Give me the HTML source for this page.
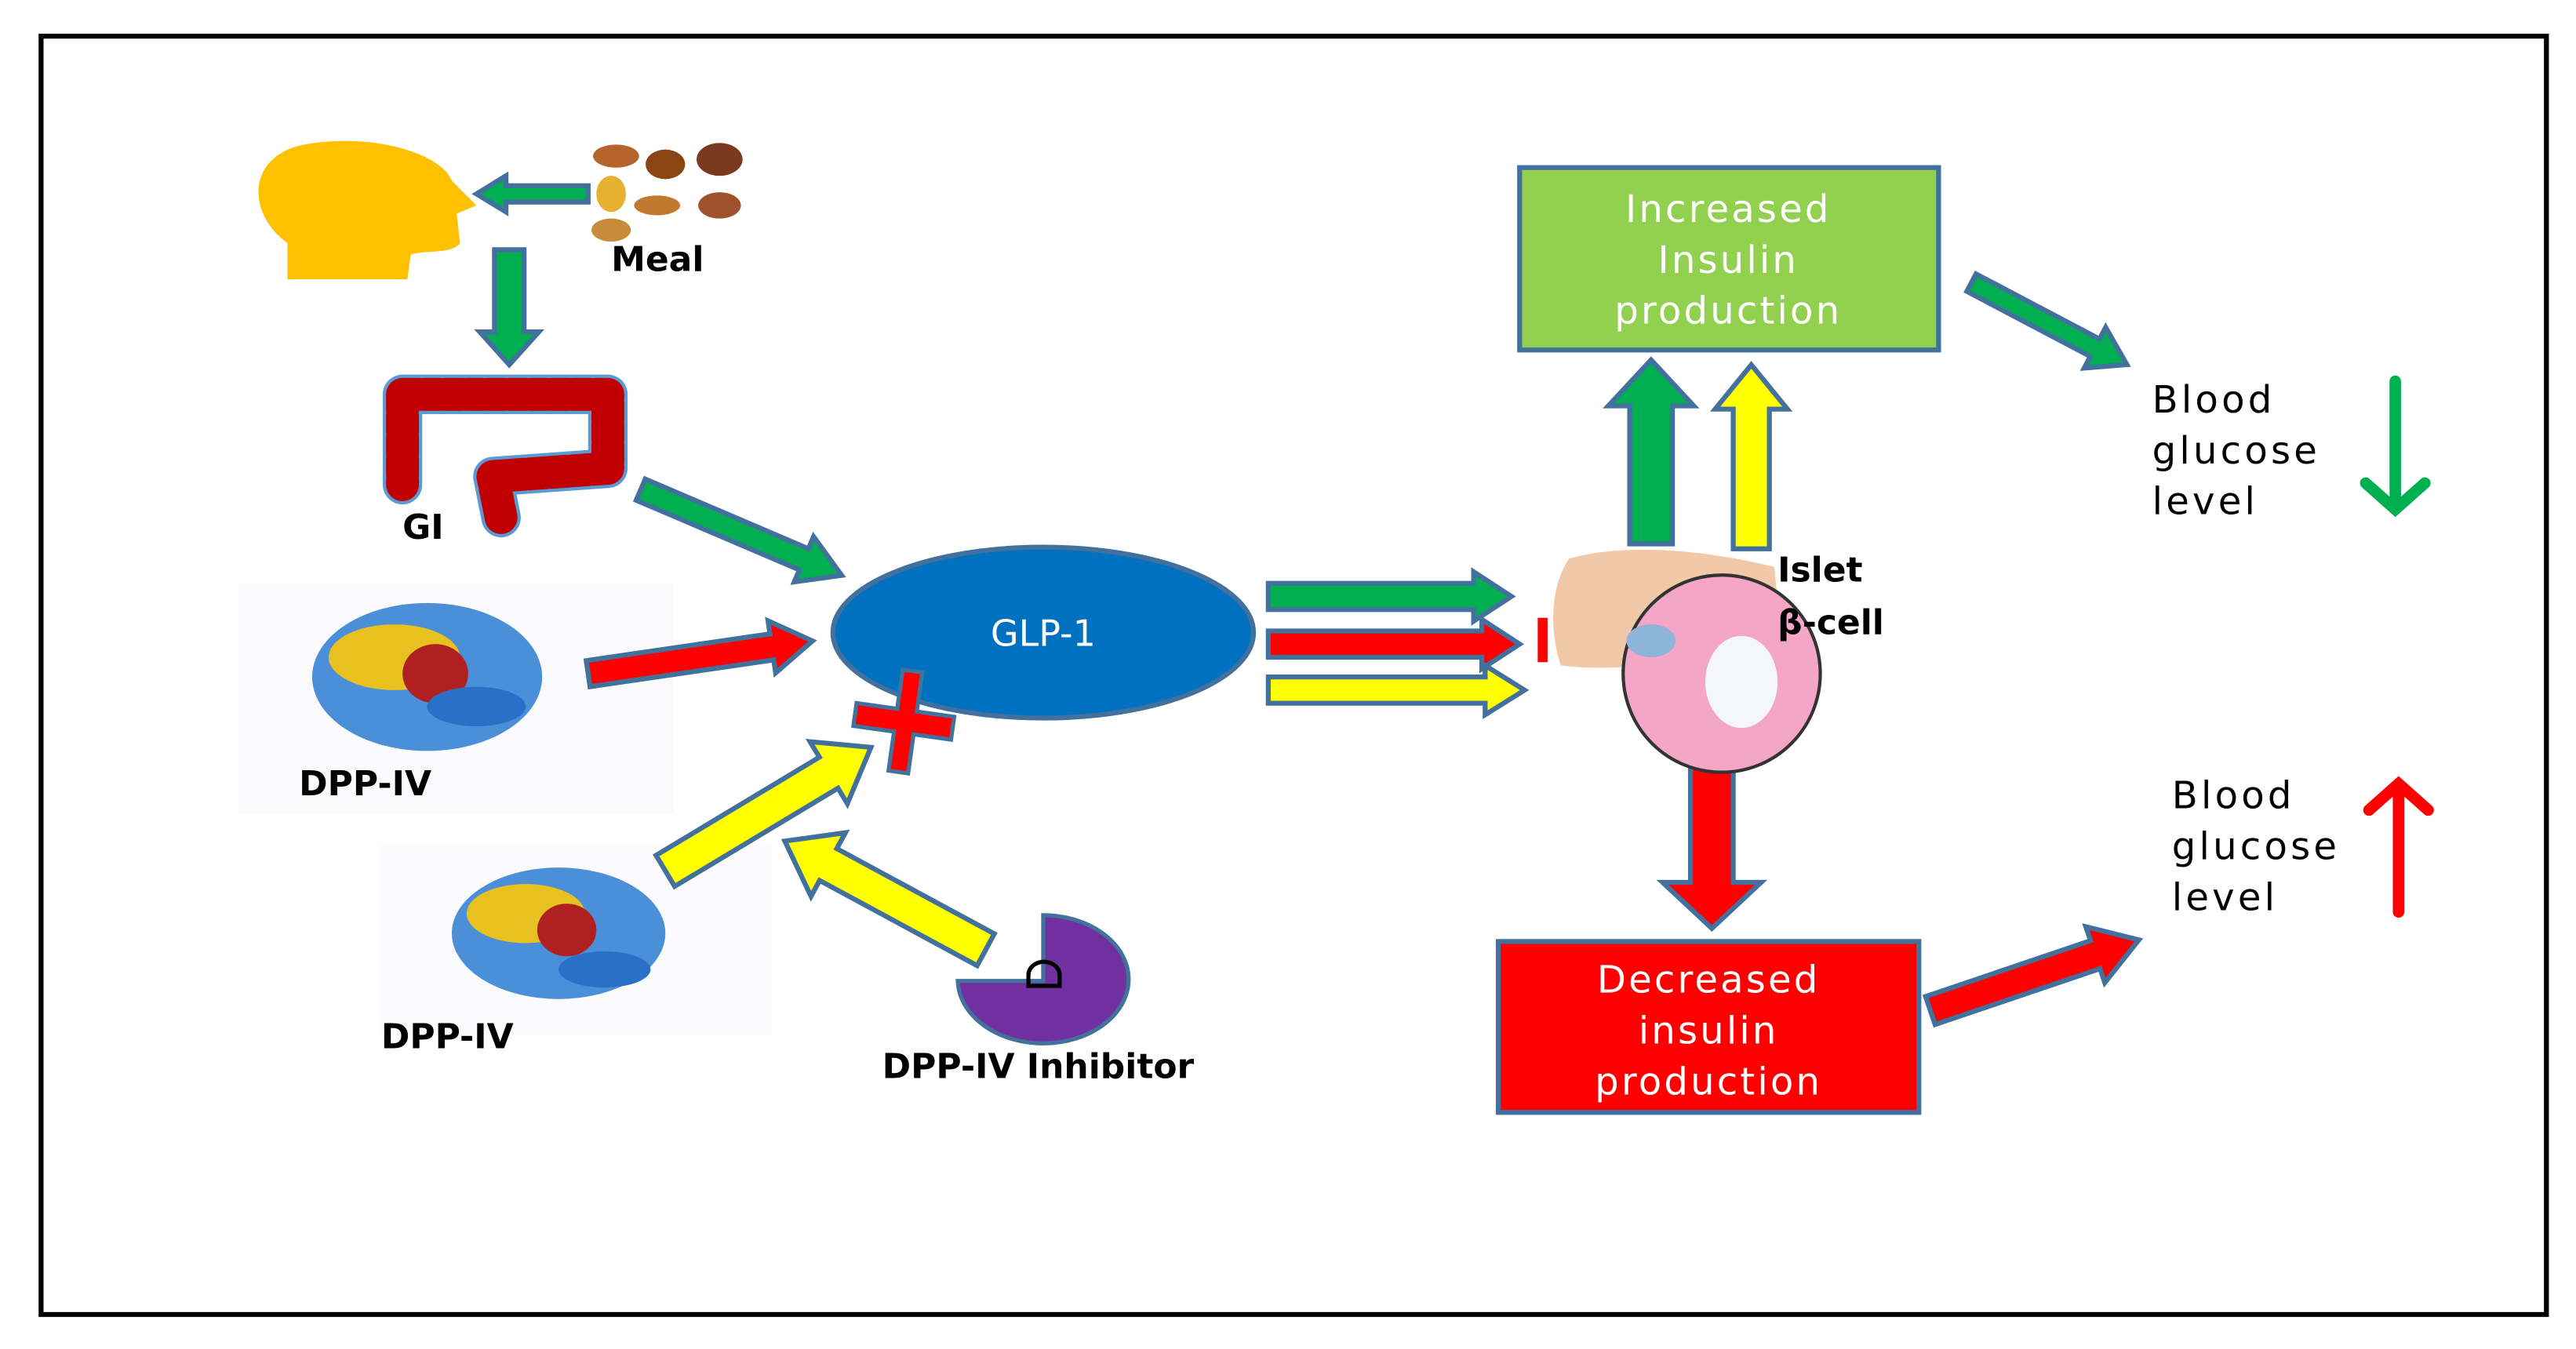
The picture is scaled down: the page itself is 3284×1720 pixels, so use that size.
<!DOCTYPE html>
<html><head><meta charset="utf-8"><style>
html,body{margin:0;padding:0;background:#fff;}
svg{display:block;}
text{font-family:"DejaVu Sans","Liberation Sans",sans-serif;}
</style></head><body>
<svg width="3284" height="1720" viewBox="0 0 1568 821" preserveAspectRatio="none" xmlns="http://www.w3.org/2000/svg">
<rect x="25" y="22" width="1525" height="778" fill="#fff" stroke="#000" stroke-width="3"/>
<!-- DPP backgrounds -->
<rect x="145" y="355" width="265" height="140" fill="#FBFBFD"/>
<rect x="230" y="515" width="240" height="115" fill="#FBFBFD"/>
<g stroke="#41719C" stroke-width="3" stroke-linejoin="miter">
<polygon points="0,-5 50,-5 50,-11 68,0 50,11 50,5 0,5" fill="#00B050" transform="translate(358,118) rotate(180)"/>
<polygon points="0,-9 50,-9 50,-18 70,0 50,18 50,9 0,9" fill="#00B050" transform="translate(310,152) rotate(90)"/>
<polygon points="0,-7 108,-7 108,-15 133,0 108,15 108,7 0,7" fill="#00B050" transform="translate(390,298) rotate(23.1)"/>
<polygon points="0,-8 113,-8 113,-16 138,0 113,16 113,8 0,8" fill="#FF0000" transform="translate(358,410) rotate(-8.3)"/>
<polygon points="0,-11 116,-11 116,-22 146,0 116,22 116,11 0,11" fill="#FFFF00" transform="translate(405,530) rotate(-31)"/>
<polygon points="0,-11 109,-11 109,-22 139,0 109,22 109,11 0,11" fill="#FFFF00" transform="translate(600,578) rotate(208.4)"/>
<polygon points="0,-8 125,-8 125,-15 148,0 125,15 125,8 0,8" fill="#00B050" transform="translate(772,363)"/>
<polygon points="0,-8 130,-8 130,-15 153,0 130,15 130,8 0,8" fill="#FF0000" transform="translate(772,392)"/>
<polygon points="0,-8 132,-8 132,-15 156,0 132,15 132,8 0,8" fill="#FFFF00" transform="translate(772,420)"/>
<polygon points="0,-13 84,-13 84,-26 112,0 84,26 84,13 0,13" fill="#00B050" transform="translate(1005,331) rotate(-90)"/>
<polygon points="0,-11 85,-11 85,-22 112,0 85,22 85,11 0,11" fill="#FFFF00" transform="translate(1066,334) rotate(-90)"/>
<polygon points="0,-6 85,-6 85,-14 107,0 85,14 85,6 0,6" fill="#00B050" transform="translate(1200,172) rotate(27.8)"/>
<polygon points="0,-13 82,-13 82,-30 110,0 82,30 82,13 0,13" fill="#FF0000" transform="translate(1042,455) rotate(90)"/>
<polygon points="0,-9 106,-9 106,-18 134,0 106,18 106,9 0,9" fill="#FF0000" transform="translate(1175,615) rotate(-18.7)"/>
</g>
<!-- head -->
<path d="M175,170 L175,148 C150,130 150,95 185,88 C230,80 270,95 275,110 L290,125 L278,130 L280,148 C275,155 258,152 250,155 L248,170 Z" fill="#FFC000"/>
<!-- meal -->
<ellipse cx="375" cy="95" rx="14" ry="7" fill="#B5652C"/>
<ellipse cx="405" cy="100" rx="12" ry="9" fill="#8B4513"/>
<ellipse cx="438" cy="97" rx="14" ry="10" fill="#7A3A20"/>
<ellipse cx="372" cy="118" rx="9" ry="11" fill="#E8B030"/>
<ellipse cx="400" cy="125" rx="14" ry="6" fill="#C0792E"/>
<ellipse cx="438" cy="125" rx="13" ry="8" fill="#A0522D"/>
<ellipse cx="372" cy="140" rx="12" ry="7" fill="#C88B3A"/>
<text x="372" y="165" font-size="21" font-weight="bold">Meal</text>
<!-- GI -->
<path d="M245,240 L370,240 L370,285 L300,290 L305,315 M245,240 L245,295" fill="none" stroke="#5B9BD5" stroke-width="24" stroke-linecap="round" stroke-linejoin="round"/>
<path d="M245,240 L370,240 L370,285 L300,290 L305,315 M245,240 L245,295" fill="none" stroke="#C00000" stroke-width="20" stroke-linecap="round" stroke-linejoin="round" stroke-dasharray="10 3"/>
<text x="245" y="328" font-size="21" font-weight="bold">GI</text>
<!-- DPP-IV 1 -->
<ellipse cx="260" cy="412" rx="70" ry="45" fill="#4A8FD8"/>
<ellipse cx="240" cy="400" rx="40" ry="20" fill="#E8C020"/>
<ellipse cx="265" cy="410" rx="20" ry="18" fill="#B02020"/>
<ellipse cx="290" cy="430" rx="30" ry="12" fill="#2A70C8"/>
<text x="182" y="484" font-size="21" font-weight="bold">DPP-IV</text>
<!-- DPP-IV 2 -->
<ellipse cx="340" cy="568" rx="65" ry="40" fill="#4A8FD8"/>
<ellipse cx="320" cy="556" rx="36" ry="18" fill="#E8C020"/>
<ellipse cx="345" cy="566" rx="18" ry="16" fill="#B02020"/>
<ellipse cx="368" cy="590" rx="28" ry="11" fill="#2A70C8"/>
<text x="232" y="638" font-size="21" font-weight="bold">DPP-IV</text>
<!-- GLP-1 -->
<ellipse cx="635" cy="385" rx="128" ry="52" fill="#0070C0" stroke="#41719C" stroke-width="3"/>
<text x="635" y="393" font-size="22" fill="#fff" text-anchor="middle">GLP-1</text>
<g transform="translate(550,440) rotate(8)" stroke="#41719C" stroke-width="2.5" fill="#FF0000">
<polygon points="-5,-32 7,-32 7,-8 30,-8 30,6 7,6 7,30 -5,30 -5,6 -30,6 -30,-8 -5,-8"/>
</g>
<!-- pacman -->
<path d="M635,597 L635,557 A52,39 0 1 1 583,597 Z" fill="#7030A0" stroke="#41719C" stroke-width="2.5"/>
<path d="M626,600 L626,593 A7,6 0 0 1 645,594 L645,600 Z" fill="none" stroke="#000" stroke-width="2.5"/>
<text x="537" y="656" font-size="21" font-weight="bold">DPP-IV Inhibitor</text>
<rect x="936" y="376" width="6" height="27" fill="#FF0000"/>
<!-- pancreas -->
<path d="M955,340 C990,330 1040,335 1080,345 L1085,395 C1040,400 990,410 950,405 C942,380 945,355 955,340 Z" fill="#F1C9A8"/>
<circle cx="1048" cy="410" r="60" fill="#F3A6C6" stroke="#333" stroke-width="2"/>
<ellipse cx="1060" cy="415" rx="22" ry="28" fill="#F4F6FB"/>
<ellipse cx="1005" cy="390" rx="15" ry="10" fill="#8EB4D8"/>
<text x="1082" y="354" font-size="21" font-weight="bold">Islet</text>
<text x="1082" y="386" font-size="21" font-weight="bold">β-cell</text>
<!-- boxes -->
<rect x="925" y="102" width="255" height="111" fill="#92D050" stroke="#41719C" stroke-width="3"/>
<g font-size="23" fill="#fff" text-anchor="middle" letter-spacing="1.5">
<text x="1052" y="135">Increased</text>
<text x="1052" y="166">Insulin</text>
<text x="1052" y="197">production</text>
</g>
<rect x="912" y="573" width="256" height="104" fill="#FF0000" stroke="#41719C" stroke-width="3"/>
<g font-size="23" fill="#fff" text-anchor="middle" letter-spacing="1.5">
<text x="1040" y="604">Decreased</text>
<text x="1040" y="635">insulin</text>
<text x="1040" y="666">production</text>
</g>
<!-- glucose -->
<text font-size="23" letter-spacing="2"><tspan x="1310" y="251">Blood</tspan><tspan x="1310" y="282">glucose</tspan><tspan x="1310" y="313">level</tspan></text>
<path d="M1458,232 L1458,310 M1440,294 L1458,310 L1476,294" fill="none" stroke="#00B050" stroke-width="7" stroke-linecap="round"/>
<text font-size="23" letter-spacing="2"><tspan x="1322" y="492">Blood</tspan><tspan x="1322" y="523">glucose</tspan><tspan x="1322" y="554">level</tspan></text>
<path d="M1460,555 L1460,478 M1442,493 L1460,477 L1478,493" fill="none" stroke="#FF0000" stroke-width="7" stroke-linecap="round"/>
</svg>
</body></html>
